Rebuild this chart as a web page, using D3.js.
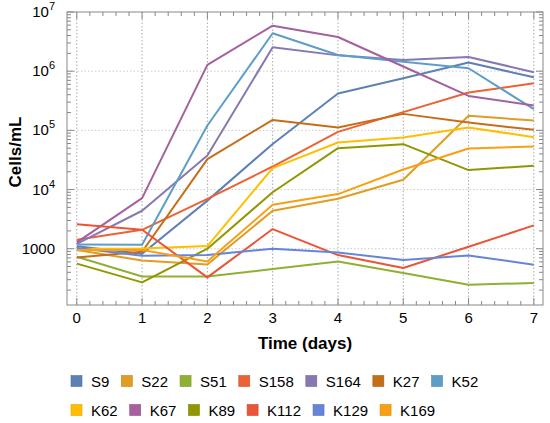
<!DOCTYPE html>
<html>
<head>
<meta charset="utf-8">
<script src="https://cdn.jsdelivr.net/npm/d3@7"></script>
<style>
  body { margin: 0; background: #fff; }
  text { font-family: "Liberation Sans", Arial, sans-serif; }
</style>
</head>
<body>
<div id="chart"></div>
<script>
// days sampled
const days = [0, 1, 2, 3, 4, 5, 6, 7];

// cell counts per strain (cells/mL)
const S9   = [1100, 820, 6500, 59000, 419000, 760000, 1400000, 790000];
const S22  = [950, 635, 543, 4380, 6980, 14600, 176000, 147000];
const S51  = [730, 340, 341, 454, 611, 389, 247, 264];
const S158 = [1420, 2090, 6980, 24500, 94400, 203000, 435000, 626000];
const S164 = [1210, 4380, 37600, 2540000, 1850000, 1550000, 1740000, 960000];
const K27  = [710, 890, 32700, 150000, 112000, 190000, 136000, 102000];
const K52  = [1180, 1170, 121000, 4370000, 1880000, 1450000, 1120000, 228000];
const K62  = [990, 1010, 1110, 23000, 62400, 75700, 112000, 76700];
const K67  = [1280, 7170, 1280000, 5880000, 3780000, 1200000, 382000, 262000];
const K89  = [560, 270, 1000, 9000, 50000, 58500, 21300, 25200];
const K112 = [2580, 2090, 328, 2150, 781, 472, 1080, 2480];
const K129 = [1030, 762, 781, 1000, 867, 644, 771, 537];
const K169 = [950, 950, 611, 5530, 8380, 21800, 49300, 53300];

const names  = ["S9", "S22", "S51", "S158", "S164", "K27", "K52", "K62", "K67", "K89", "K112", "K129", "K169"];
const values = [S9, S22, S51, S158, S164, K27, K52, K62, K67, K89, K112, K129, K169];
const colors = ["#5e81b5", "#e19c24", "#8fb032", "#eb6235", "#8778b3", "#c56e1a", "#5d9ec7",
                "#ffbf00", "#a5609d", "#929600", "#e95536", "#6685d9", "#f89f13"];

const decades = [1e3, 1e4, 1e5, 1e6, 1e7];

const W = 550, H = 423;
const margin = { top: 12, right: 7, bottom: 118, left: 67 };
const width = W - margin.left - margin.right,
      height = H - margin.top - margin.bottom;

const svg = d3.select("#chart").append("svg")
    .attr("width", W)
    .attr("height", H);

const g = svg.append("g")
    .attr("transform", `translate(${margin.left},${margin.top})`);

const x = d3.scaleLinear().domain([-0.15, 7.14]).range([0, width]);
const y = d3.scaleLog().domain([112, 1e7]).range([height, 0]);

// grid lines
g.append("g").selectAll("line")
    .data(days)
    .join("line")
    .attr("x1", d => x(d)).attr("x2", d => x(d))
    .attr("y1", 0).attr("y2", height)
    .attr("stroke", "#aaa")
    .attr("stroke-dasharray", "1.5,2");

g.append("g").selectAll("line")
    .data(decades.slice(0, 4))
    .join("line")
    .attr("x1", 0).attr("x2", width)
    .attr("y1", d => y(d)).attr("y2", d => y(d))
    .attr("stroke", "#ccc")
    .attr("stroke-dasharray", "1.5,2");

// minor ticks
const xMinor = d3.range(0, 36).map(i => i / 5).filter(d => d <= 7.14);
const yMinor = [];
[100, 1e3, 1e4, 1e5, 1e6].forEach(p => {
    for (let k = 2; k <= 9; k++) if (p * k >= 112) yMinor.push(p * k);
});

const tickG = g.append("g").attr("stroke", "#888").attr("stroke-width", 1);
xMinor.forEach(d => {
    const major = Number.isInteger(d);
    const len = major ? 7 : 4;
    tickG.append("line").attr("x1", x(d)).attr("x2", x(d)).attr("y1", height).attr("y2", height - len);
    tickG.append("line").attr("x1", x(d)).attr("x2", x(d)).attr("y1", 0).attr("y2", len);
});
yMinor.concat(decades).forEach(d => {
    const major = decades.includes(d);
    const len = major ? 7 : 4;
    tickG.append("line").attr("x1", 0).attr("x2", len).attr("y1", y(d)).attr("y2", y(d));
    tickG.append("line").attr("x1", width).attr("x2", width - len).attr("y1", y(d)).attr("y2", y(d));
});

// lines
const line = d3.line()
    .x((d, i) => x(days[i]))
    .y(d => y(d));

g.append("g").selectAll("path")
    .data(values)
    .join("path")
    .attr("d", d => line(d))
    .attr("fill", "none")
    .attr("stroke", (d, i) => colors[i])
    .attr("stroke-width", 2)
    .attr("stroke-linejoin", "round");

// frame
g.append("rect")
    .attr("width", width).attr("height", height)
    .attr("fill", "none")
    .attr("stroke", "#888");

// tick labels
g.append("g").selectAll("text")
    .data(days)
    .join("text")
    .attr("x", d => x(d))
    .attr("y", height + 18)
    .attr("text-anchor", "middle")
    .attr("font-size", 15)
    .text(d => d);

const yl = g.append("g").selectAll("text")
    .data(decades)
    .join("text")
    .attr("x", -12)
    .attr("y", d => y(d) + 5)
    .attr("text-anchor", "end")
    .attr("font-size", 15);
yl.each(function (d) {
    const t = d3.select(this);
    const p = Math.round(Math.log10(d));
    if (p === 3) { t.text("1000"); return; }
    t.append("tspan").text("10");
    t.append("tspan").attr("dy", -7).attr("font-size", 11).text(p);
});

// axis titles
svg.append("text")
    .attr("x", 305).attr("y", 349)
    .attr("text-anchor", "middle")
    .attr("font-weight", "bold")
    .attr("font-size", 17)
    .text("Time (days)");

svg.append("text")
    .attr("transform", "translate(21,152) rotate(-90)")
    .attr("text-anchor", "middle")
    .attr("font-weight", "bold")
    .attr("font-size", 17)
    .text("Cells/mL");

// legend
const rows = [names.slice(0, 7), names.slice(7)];
rows.forEach((row, r) => {
    let cx = 71;
    const cy = 381 + r * 29;
    row.forEach(name => {
        const i = names.indexOf(name);
        svg.append("rect")
            .attr("x", cx).attr("y", cy - 5.5)
            .attr("width", 11).attr("height", 11)
            .attr("fill", colors[i])
            .attr("stroke", d3.color(colors[i]).darker(0.4))
            .attr("stroke-width", 0.6);
        const t = svg.append("text")
            .attr("x", cx + 20).attr("y", cy + 5.5)
            .attr("font-size", 15)
            .text(name);
        cx += 20 + t.node().getComputedTextLength() + 12;
    });
});
</script>
</body>
</html>
